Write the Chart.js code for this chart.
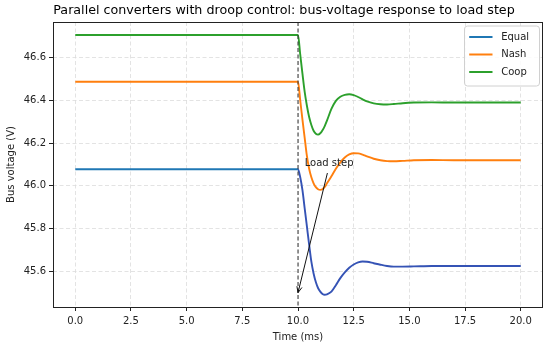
<!DOCTYPE html>
<html>
<head>
<meta charset="utf-8">
<script src="https://cdn.jsdelivr.net/npm/chart.js@4/dist/chart.umd.min.js"></script>
<style>
  html, body { margin: 0; padding: 0; background: #ffffff; }
  #c { display: block; }
</style>
</head>
<body>
<canvas id="c" width="550" height="348"></canvas>
<script>
// ---------- data ----------
const times = [0, 10, 10.1, 10.2, 10.3, 10.4, 10.5, 10.6, 10.7, 10.8, 10.9, 11.0, 11.1, 11.2, 11.3, 11.5, 11.7, 11.9, 12.1, 12.3, 12.5, 12.7, 12.9, 13.1, 13.4, 13.7, 14.0, 14.3, 14.7, 15.2, 16, 17, 18, 20];
const equalV = [46.078, 46.078, 46.04, 45.98, 45.895, 45.81, 45.725, 45.645, 45.59, 45.55, 45.522, 45.505, 45.494, 45.49, 45.492, 45.505, 45.535, 45.568, 45.595, 45.617, 45.632, 45.642, 45.646, 45.645, 45.638, 45.631, 45.625, 45.622, 45.622, 45.623, 45.625, 45.625, 45.625, 45.625];
const nashV = [46.487, 46.487, 46.40, 46.31, 46.225, 46.14, 46.08, 46.04, 46.012, 45.994, 45.984, 45.981, 45.984, 45.995, 46.012, 46.045, 46.08, 46.11, 46.133, 46.147, 46.153, 46.152, 46.146, 46.138, 46.127, 46.12, 46.116, 46.115, 46.117, 46.12, 46.121, 46.12, 46.12, 46.12];
const coopV = [46.706, 46.706, 46.615, 46.525, 46.44, 46.375, 46.322, 46.285, 46.258, 46.244, 46.24, 46.246, 46.26, 46.28, 46.305, 46.36, 46.398, 46.417, 46.426, 46.429, 46.425, 46.416, 46.405, 46.395, 46.386, 46.382, 46.381, 46.383, 46.387, 46.39, 46.391, 46.39, 46.39, 46.39];
const seriesNames = ['Equal', 'Nash', 'Coop'];
const xTickValues = [0, 2.5, 5, 7.5, 10, 12.5, 15, 17.5, 20];
const yTickValues = [45.6, 45.8, 46.0, 46.2, 46.4, 46.6];
const stepTime = 10;
const annText = 'Load step';
const annTextAt = { x: 10.3, y: 46.107 };
const annArrowFrom = { x: 11.32, y: 46.06 };
const annArrowTo = { x: 10, y: 45.5 };

const titleText = 'Parallel converters with droop control: bus-voltage response to load step';
const xTitle = 'Time (ms)';
const yTitle = 'Bus voltage (V)';

// ---------- styles ----------
const FONT = 'DejaVu Sans';
const colors = ['#1f77b4', '#ff7f0e', '#2ca02c'];
Chart.defaults.font.family = FONT;
Chart.defaults.color = '#222';
const SMALL = 10;

const toPts = (vals) => times.map((t, i) => ({ x: t, y: vals[i] }));

const extrasPlugin = {
  id: 'extras',
  afterDatasetsDraw(chart) {
    const { ctx, chartArea: a, scales: { x, y } } = chart;
    ctx.save();
    ctx.strokeStyle = '#333';
    ctx.lineWidth = 1;
    ctx.setLineDash([4, 2.5]);
    const sx = x.getPixelForValue(stepTime);
    ctx.beginPath();
    ctx.moveTo(sx, a.top);
    ctx.lineTo(sx, a.bottom);
    ctx.stroke();
    ctx.restore();

    ctx.save();
    ctx.font = SMALL + 'px ' + FONT;
    ctx.fillStyle = '#222';
    ctx.textAlign = 'left';
    ctx.textBaseline = 'middle';
    ctx.fillText(annText, x.getPixelForValue(annTextAt.x), y.getPixelForValue(annTextAt.y));
    const x0 = x.getPixelForValue(annArrowFrom.x), y0 = y.getPixelForValue(annArrowFrom.y);
    const x1 = x.getPixelForValue(annArrowTo.x), y1 = y.getPixelForValue(annArrowTo.y);
    ctx.strokeStyle = '#111';
    ctx.lineWidth = 1;
    ctx.beginPath();
    ctx.moveTo(x0, y0);
    ctx.lineTo(x1, y1);
    const ang = Math.atan2(y1 - y0, x1 - x0);
    const hl = 6, hw = 2.6;
    const bx = x1 - hl * Math.cos(ang), by = y1 - hl * Math.sin(ang);
    const nx = -Math.sin(ang) * hw, ny = Math.cos(ang) * hw;
    ctx.moveTo(bx + nx, by + ny);
    ctx.lineTo(x1, y1);
    ctx.lineTo(bx - nx, by - ny);
    ctx.stroke();
    ctx.restore();
  },
  afterDraw(chart) {
    const { ctx, chartArea: a } = chart;
    // title
    ctx.save();
    ctx.font = '12.7px ' + FONT;
    ctx.fillStyle = '#000';
    ctx.textAlign = 'center';
    ctx.textBaseline = 'middle';
    ctx.fillText(titleText, 284, 11);
    ctx.restore();

    // frame
    ctx.save();
    ctx.strokeStyle = '#222';
    ctx.lineWidth = 1;
    ctx.strokeRect(Math.round(a.left) + 0.5, Math.round(a.top) + 0.5,
      Math.round(a.right) - Math.round(a.left) - 1, Math.round(a.bottom) - Math.round(a.top));
    ctx.restore();

    // legend
    const w = 75, h = 60;
    const lx = a.right - 3.5 - w, ly = a.top + 4;
    ctx.save();
    ctx.beginPath();
    const r = 3;
    ctx.moveTo(lx + r, ly);
    ctx.lineTo(lx + w - r, ly);
    ctx.arcTo(lx + w, ly, lx + w, ly + r, r);
    ctx.lineTo(lx + w, ly + h - r);
    ctx.arcTo(lx + w, ly + h, lx + w - r, ly + h, r);
    ctx.lineTo(lx + r, ly + h);
    ctx.arcTo(lx, ly + h, lx, ly + h - r, r);
    ctx.lineTo(lx, ly + r);
    ctx.arcTo(lx, ly, lx + r, ly, r);
    ctx.closePath();
    ctx.fillStyle = 'rgba(255,255,255,0.85)';
    ctx.fill();
    ctx.strokeStyle = '#d0d0d0';
    ctx.lineWidth = 1;
    ctx.stroke();
    ctx.font = SMALL + 'px ' + FONT;
    ctx.textBaseline = 'middle';
    ctx.textAlign = 'left';
    chart.data.datasets.forEach((ds, i) => {
      const yy = ly + 11 + i * 17.5;
      ctx.strokeStyle = ds.borderColor;
      ctx.lineWidth = 2;
      ctx.beginPath();
      ctx.moveTo(lx + 4.7, yy);
      ctx.lineTo(lx + 28, yy);
      ctx.stroke();
      ctx.fillStyle = '#222';
      ctx.fillText(ds.label, lx + 36.7, yy);
    });
    ctx.restore();
  }
};

const gridStyle = {
  color: '#dcdcdc',
  lineWidth: 0.8,
  drawTicks: true,
  tickLength: 4,
  tickColor: '#222',
  tickWidth: 1,
  tickBorderDash: []
};

new Chart(document.getElementById('c'), {
  type: 'line',
  data: {
    datasets: [
      {
        label: seriesNames[0], data: toPts(equalV), borderColor: colors[0], order: 3,
        segment: { borderColor: (c) => (c.p0.parsed.x >= stepTime ? '#3553b5' : undefined) }
      },
      { label: seriesNames[1], data: toPts(nashV), borderColor: colors[1], order: 2 },
      { label: seriesNames[2], data: toPts(coopV), borderColor: colors[2], order: 1 }
    ].map(d => Object.assign({
      borderWidth: 1.9, pointRadius: 0, fill: false,
      cubicInterpolationMode: 'monotone'
    }, d))
  },
  options: {
    responsive: false,
    animation: false,
    devicePixelRatio: 1,
    layout: { padding: { left: 0, right: 7, top: 22, bottom: 0 } },
    plugins: {
      legend: { display: false },
      tooltip: { enabled: false },
      title: { display: false }
    },
    scales: {
      x: {
        type: 'linear', min: -1, max: 21,
        afterBuildTicks: (s) => { s.ticks = xTickValues.map(v => ({ value: v })); },
        afterFit: (s) => { s.height = 41; },
        grid: gridStyle,
        border: { display: false, dash: [4, 2.5] },
        ticks: {
          autoSkip: false, maxRotation: 0, padding: 4.4,
          font: { size: SMALL }, color: '#222',
          callback: (v) => Number(v).toFixed(1)
        },
        title: { display: true, text: xTitle, font: { size: SMALL }, color: '#222', padding: { top: 0, bottom: 5 } }
      },
      y: {
        type: 'linear', min: 45.433, max: 46.767,
        afterBuildTicks: (s) => { s.ticks = yTickValues.map(v => ({ value: v })); },
        afterFit: (s) => { s.width = 53; },
        grid: gridStyle,
        border: { display: false, dash: [4, 2.5] },
        ticks: {
          autoSkip: false, padding: 3,
          font: { size: SMALL }, color: '#222',
          callback: (v) => Number(v).toFixed(1)
        },
        title: { display: true, text: yTitle, font: { size: SMALL }, color: '#222', padding: { top: 5.7, bottom: 0 } }
      }
    }
  },
  plugins: [extrasPlugin]
});
</script>
</body>
</html>
